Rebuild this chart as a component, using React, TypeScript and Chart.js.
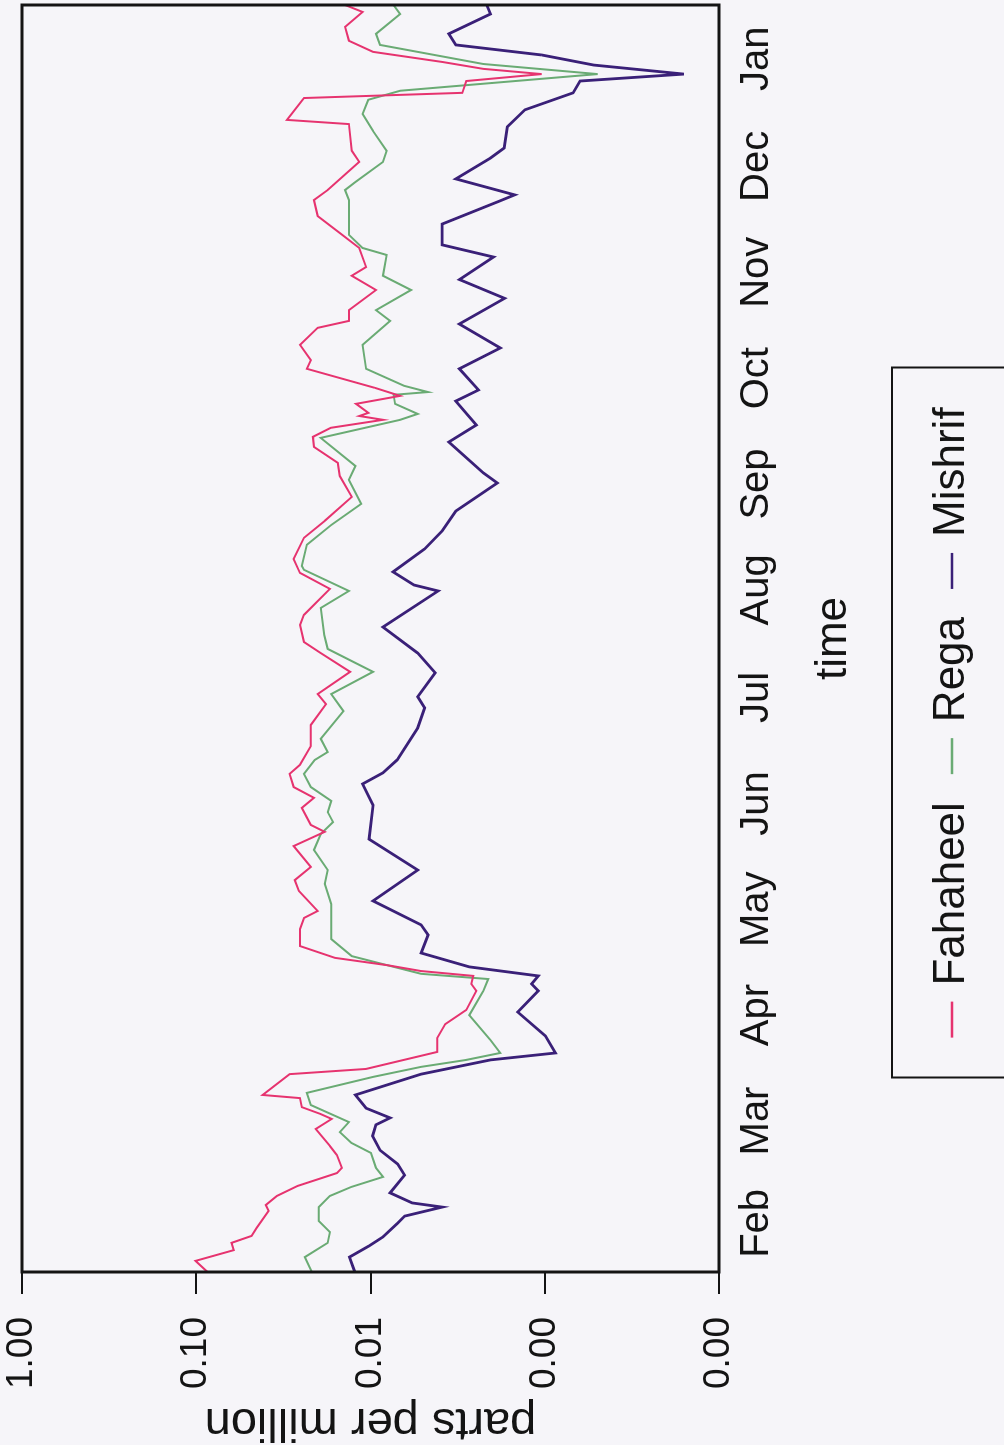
import React, { useEffect, useRef } from "react";
import { Chart, registerables } from "chart.js";

Chart.register(...registerables);

// ---- data ----
const monthLabels = ["Feb", "Mar", "Apr", "May", "Jun", "Jul", "Aug", "Sep", "Oct", "Nov", "Dec", "Jan"];
const monthLengths = [28, 31, 30, 31, 30, 31, 31, 30, 31, 30, 31, 31];
const yTickValues = [0.0001, 0.001, 0.01, 0.1, 1];
const seriesNames = ["Fahaheel", "Rega", "Mishrif"];

// day of the year-long record (0 = start of Feb), value in parts per million
const fahaheelDays = [0, 3.2, 6.3, 8.4, 10.4, 12.7, 17.6, 19.3, 21.9, 24.8, 28.5, 30.0, 33.7, 36.3, 41.2, 44.1, 45.5, 47.5, 50.1, 51.0, 57.0, 58.5, 63.4, 67.4, 71.4, 75.5, 81.0, 83.0, 85.3, 86.7, 88.4, 90.5, 93.9, 98.8, 102.0, 104.0, 109.8, 112.9, 116.7, 122.7, 126.8, 128.8, 133.7, 136.6, 139.7, 143.5, 146.1, 151.5, 157.6, 163.6, 166.5, 172.9, 178.3, 181.5, 186.4, 189.3, 196.8, 201.4, 205.4, 211.5, 216.4, 223.3, 229.3, 233.1, 237.7, 240.6, 243.2, 245.5, 246.6, 247.5, 250.1, 252.4, 254.7, 260.2, 262.7, 267.1, 272.0, 274.0, 277.1, 282.9, 287.0, 289.5, 295.0, 299.3, 304.2, 308.8, 311.7, 319.8, 323.0, 330.7, 331.9, 338.2, 339.7, 343.1, 345.1, 346.6, 348.6, 351.5, 354.7, 358.7, 363.0, 365.0];
const fahaheelPpm = [0.0861, 0.101, 0.0610, 0.0627, 0.0481, 0.0450, 0.0384, 0.0399, 0.0345, 0.0262, 0.0156, 0.0146, 0.0156, 0.0171, 0.0206, 0.0167, 0.0193, 0.0248, 0.0254, 0.0416, 0.0291, 0.0106, 0.00414, 0.00414, 0.00373, 0.00282, 0.00247, 0.00264, 0.00257, 0.00512, 0.00804, 0.0160, 0.0254, 0.0254, 0.0241, 0.0201, 0.0258, 0.0272, 0.0220, 0.0276, 0.0183, 0.0220, 0.0248, 0.0211, 0.0276, 0.0291, 0.0254, 0.0220, 0.0220, 0.0180, 0.0201, 0.0131, 0.0193, 0.0241, 0.0254, 0.0241, 0.0171, 0.0254, 0.0276, 0.0241, 0.0183, 0.0128, 0.0150, 0.0154, 0.0211, 0.0214, 0.0169, 0.00848, 0.0116, 0.0103, 0.0121, 0.00676, 0.00942, 0.0232, 0.0220, 0.0254, 0.0201, 0.0133, 0.0133, 0.00930, 0.0128, 0.0106, 0.0116, 0.0150, 0.0201, 0.0211, 0.0176, 0.0116, 0.0128, 0.0133, 0.0302, 0.0241, 0.00297, 0.00282, 0.00104, 0.00225, 0.00388, 0.00967, 0.0133, 0.0140, 0.0111, 0.0140];

const regaDays = [0, 4.3, 8.4, 11.5, 14.7, 18.7, 21.9, 24.5, 27.4, 30.0, 34.3, 37.2, 40.3, 43.2, 48.1, 51.6, 56.2, 59.1, 61.1, 63.1, 66.8, 74.0, 81.0, 84.4, 85.9, 88.4, 91.0, 95.9, 100.8, 106.0, 111.8, 115.8, 121.6, 126.2, 129.6, 132.5, 135.7, 139.7, 143.5, 147.5, 149.8, 153.6, 161.6, 166.5, 172.9, 179.5, 183.5, 191.3, 196.2, 202.3, 203.4, 209.5, 215.2, 221.3, 228.2, 232.2, 240.3, 245.5, 247.2, 250.1, 252.7, 253.5, 255.3, 260.2, 267.1, 274.0, 277.1, 282.9, 287.0, 293.0, 295.0, 298.8, 308.8, 311.7, 314.0, 319.8, 323.0, 328.7, 333.6, 337.7, 340.3, 345.1, 348.0, 353.5, 356.7, 362.4, 365];
const regaPpm = [0.0217, 0.0238, 0.0176, 0.0171, 0.0198, 0.0198, 0.0171, 0.0129, 0.00848, 0.00930, 0.00994, 0.0129, 0.0150, 0.0133, 0.0220, 0.0232, 0.00967, 0.00512, 0.00282, 0.00180, 0.00205, 0.00271, 0.00225, 0.00211, 0.00512, 0.00804, 0.0128, 0.0168, 0.0168, 0.0168, 0.0183, 0.0176, 0.0211, 0.0193, 0.0164, 0.0176, 0.0168, 0.0220, 0.0241, 0.0209, 0.0176, 0.0193, 0.0143, 0.0168, 0.00967, 0.0176, 0.0184, 0.0193, 0.0133, 0.0241, 0.0248, 0.0232, 0.0168, 0.0113, 0.0133, 0.0122, 0.0193, 0.00676, 0.00536, 0.00723, 0.00737, 0.00467, 0.00642, 0.0106, 0.0111, 0.00772, 0.00930, 0.00585, 0.00848, 0.00808, 0.0111, 0.0133, 0.0133, 0.0140, 0.0122, 0.00848, 0.00808, 0.00967, 0.0111, 0.0103, 0.00676, 0.000497, 0.00225, 0.00882, 0.00930, 0.00676, 0.00737];

const mishrifDays = [0, 4.3, 7.5, 10.1, 14.1, 16.1, 18.7, 19.9, 22.8, 27.9, 31.1, 35.1, 39.2, 42.4, 44.4, 47.2, 51.0, 57.0, 61.1, 63.1, 68.0, 74.9, 81.0, 83.0, 85.3, 87.9, 91.9, 97.1, 100.0, 106.9, 115.8, 124.7, 134.5, 140.6, 143.8, 147.5, 156.7, 162.5, 165.7, 172.6, 178.3, 185.8, 196.2, 197.9, 201.7, 208.3, 213.5, 219.2, 227.3, 230.2, 239.1, 244.0, 250.9, 254.1, 260.2, 266.2, 273.1, 280.5, 285.9, 292.4, 295.9, 301.9, 308.6, 310.3, 314.9, 320.9, 323.8, 329.9, 334.8, 339.7, 343.1, 345.1, 347.7, 350.6, 353.5, 356.7, 362.4, 365];
const mishrifPpm = [0.0123, 0.0132, 0.0102, 0.00848, 0.00698, 0.00637, 0.00388, 0.00577, 0.00772, 0.00637, 0.00698, 0.00882, 0.00973, 0.00930, 0.00772, 0.0106, 0.0122, 0.00512, 0.00205, 0.000867, 0.000990, 0.00143, 0.00109, 0.00119, 0.00109, 0.00271, 0.00512, 0.00467, 0.00512, 0.00967, 0.00536, 0.0102, 0.00967, 0.0111, 0.00848, 0.00704, 0.00536, 0.00489, 0.00536, 0.00425, 0.00536, 0.00848, 0.00409, 0.00562, 0.00742, 0.00489, 0.00388, 0.00324, 0.00187, 0.00225, 0.00355, 0.00247, 0.00324, 0.00240, 0.00309, 0.00180, 0.00309, 0.00170, 0.00309, 0.00197, 0.00388, 0.00388, 0.00180, 0.00149, 0.00324, 0.00205, 0.00171, 0.00164, 0.00130, 0.000687, 0.000627, 0.000159, 0.000524, 0.00104, 0.00324, 0.00355, 0.00205, 0.00215];

// ---- styling ----
const FONT = '"Liberation Sans", Arial, Helvetica, sans-serif';
const INK = "#141414";
const PAPER = "#f6f5f9";
const COLORS = ["#e6336f", "#6aab74", "#3a2078"];
const WIDTHS = [2, 2, 2.8];

const W = 1445;
const H = 1004;

const monthCenters = monthLengths.map((len, i) => {
  const start = monthLengths.slice(0, i).reduce((a, b) => a + b, 0);
  return start + len / 2;
});
const totalDays = monthLengths.reduce((a, b) => a + b, 0);

const toPoints = (days: number[], vals: number[]) => days.map((d, i) => ({ x: d, y: vals[i] }));

const frameAndLegend = {
  id: "frameAndLegend",
  afterDraw(chart: any) {
    const { ctx, chartArea: a } = chart;
    ctx.save();
    ctx.strokeStyle = INK;
    ctx.lineWidth = 3;
    ctx.strokeRect(a.left, a.top, a.right - a.left, a.bottom - a.top);

    // legend box
    const boxW = 710;
    const boxL = chart.width / 2 - boxW / 2;
    const boxT = 892;
    ctx.lineWidth = 2;
    ctx.strokeRect(boxL, boxT, boxW, chart.height - boxT + 20);

    ctx.font = `44px ${FONT}`;
    ctx.textBaseline = "middle";
    ctx.textAlign = "left";
    const lineLen = 36;
    const gap = 16;
    const spacing = 28;
    const ds = chart.data.datasets;
    const widths = ds.map((d: any) => ctx.measureText(d.label).width);
    const total = widths.reduce((s: number, w: number) => s + w + lineLen + gap, 0) + spacing * (ds.length - 1);
    let x = chart.width / 2 - total / 2;
    const y = 952;
    ds.forEach((d: any, i: number) => {
      ctx.strokeStyle = d.borderColor;
      ctx.lineWidth = 2.5;
      ctx.beginPath();
      ctx.moveTo(x, y);
      ctx.lineTo(x + lineLen, y);
      ctx.stroke();
      x += lineLen + gap;
      ctx.fillStyle = INK;
      ctx.fillText(d.label, x, y);
      x += widths[i] + spacing;
    });
    ctx.restore();
  },
};

export default function App() {
  const ref = useRef<HTMLCanvasElement>(null);

  useEffect(() => {
    document.body.style.overflow = "hidden";
    document.body.style.background = PAPER;
    const seriesDays = [fahaheelDays, regaDays, mishrifDays];
    const seriesVals = [fahaheelPpm, regaPpm, mishrifPpm];
    const chart = new Chart(ref.current as HTMLCanvasElement, {
      type: "line",
      data: {
        datasets: seriesNames.map((name, i) => ({
          label: name,
          data: toPoints(seriesDays[i], seriesVals[i]),
          borderColor: COLORS[i],
          borderWidth: WIDTHS[i],
          pointRadius: 0,
          tension: 0,
          fill: false,
        })),
      },
      options: {
        responsive: false,
        animation: false,
        devicePixelRatio: 1,
        layout: { padding: { top: 0, right: 5, left: 0, bottom: 120 } },
        plugins: { legend: { display: false }, tooltip: { enabled: false } },
        scales: {
          x: {
            type: "linear",
            min: 0,
            max: totalDays,
            afterBuildTicks: (s: any) => {
              s.ticks = monthCenters.map((v) => ({ value: v }));
            },
            afterFit: (s: any) => {
              s.height = 165;
              s.paddingLeft = 0;
              s.paddingRight = 0;
            },
            ticks: {
              autoSkip: false,
              maxRotation: 0,
              minRotation: 0,
              padding: 14,
              color: INK,
              font: { family: FONT, size: 40 },
              callback: (_v: any, i: number) => monthLabels[i],
            },
            grid: { display: true, drawOnChartArea: false, drawTicks: false },
            border: { display: false },
            title: {
              display: true,
              text: "time",
              color: INK,
              font: { family: FONT, size: 44, lineHeight: 1 },
              padding: { top: 0, bottom: 28 },
            },
          },
          y: {
            type: "logarithmic",
            min: 0.0001,
            max: 1,
            afterBuildTicks: (s: any) => {
              s.ticks = yTickValues.map((v) => ({ value: v }));
            },
            afterFit: (s: any) => {
              s.width = 173;
              s.paddingTop = 22;
              s.paddingBottom = 0;
            },
            ticks: {
              padding: 23,
              color: INK,
              font: { family: FONT, size: 37 },
              callback: (v: any) => Number(v).toFixed(2),
            },
            grid: { drawOnChartArea: false, drawTicks: true, tickLength: 22, color: INK, lineWidth: 2 },
            border: { display: false },
            title: {
              display: true,
              text: "parts per million",
              color: INK,
              font: { family: FONT, size: 47, lineHeight: 1 },
              padding: 0,
            },
          },
        },
      },
      plugins: [frameAndLegend],
    } as any);
    return () => chart.destroy();
  }, []);

  return (
    <div
      style={{
        position: "fixed",
        left: 0,
        top: 0,
        width: W,
        height: H,
        transformOrigin: "0 0",
        transform: `translateY(${W}px) rotate(-90deg)`,
        background: PAPER,
      }}
    >
      <canvas ref={ref} width={W} height={H} style={{ display: "block", width: W, height: H }} />
    </div>
  );
}
